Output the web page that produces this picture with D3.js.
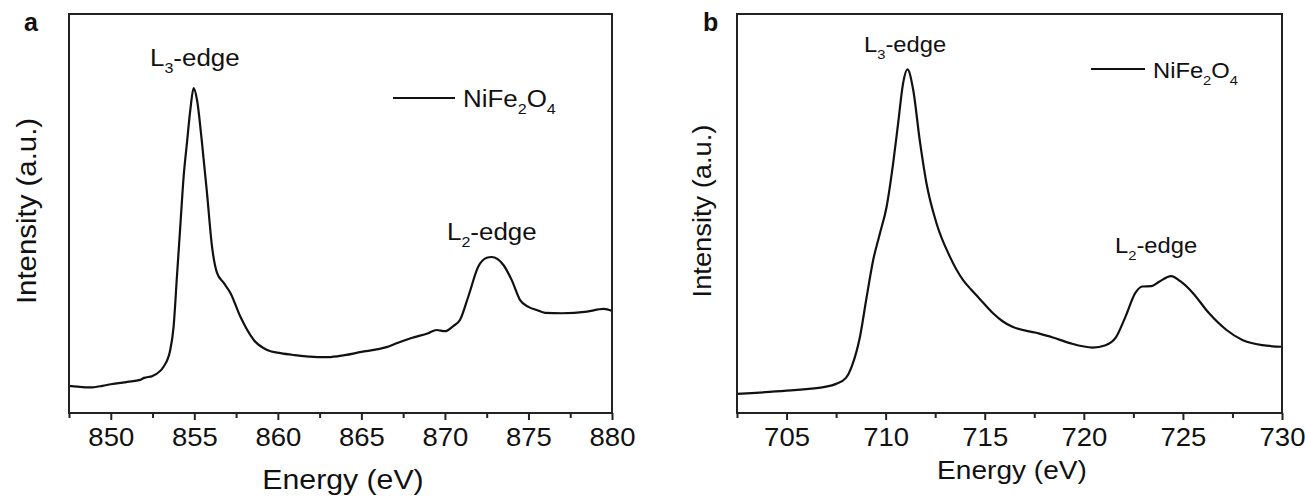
<!DOCTYPE html>
<html><head><meta charset="utf-8">
<script src="https://cdn.jsdelivr.net/npm/d3@7"></script>
<style>
html,body{margin:0;padding:0;background:#fff;}
text{font-family:"Liberation Sans",Arial,sans-serif;fill:#111;}
</style></head>
<body>
<svg id="chart" width="1305" height="500"></svg>
<script>
// ---- Data ----
const aEnergy = [847.5,848.0,848.75,849.5,850.0,851.0,851.76,852.0,852.5,853.16,853.56,853.76,853.96,854.16,854.36,854.56,854.76,854.96,855.16,855.46,855.76,856.06,856.36,856.76,857.16,857.76,858.56,859.36,860.16,861.0,862.4,863.0,864.0,865.0,866.0,866.5,867.0,868.0,869.0,869.5,870.0,870.5,870.9,871.4,872.0,872.5,872.8,873.5,874.0,874.5,875.0,875.5,876.0,877.0,878.5,879.5,880.0];
const aIntensity = [6.8,6.6,6.4,6.8,7.2,7.8,8.3,8.8,9.3,11.6,15.8,21.6,34.2,46.7,59.2,67.7,75.9,81.4,78.5,67.7,55.1,41.7,35.1,32.6,30.1,24.1,18.3,15.8,15.0,14.5,14.0,14.0,14.5,15.3,16.0,16.5,17.3,18.8,20.0,20.8,20.5,21.8,23.3,29.2,36.7,38.9,39.1,37.1,33.3,28.3,26.6,25.8,25.1,25.0,25.4,26.1,25.6];
const bEnergy = [702.5,705.0,707.0,707.5,708.0,708.3,708.7,709.04,709.37,709.71,710.05,710.38,710.63,710.88,711.1,711.39,711.72,712.06,712.57,713.24,713.91,714.3,714.75,715.42,715.9,716.4,717.6,718.4,719.3,720.45,721.1,721.6,722.1,722.6,722.95,723.4,723.8,724.4,724.9,725.5,726.3,727.2,728.0,729.0,730.0];
const bIntensity = [4.8,5.6,6.6,7.3,8.8,11.8,19.0,29.0,38.3,45.0,51.7,62.6,72.6,82.6,86.1,81.0,68.4,57.6,47.5,39.2,33.3,31.0,28.6,25.0,23.0,21.6,20.1,19.0,17.5,16.4,17.0,18.8,24.1,30.1,31.7,31.8,32.9,34.3,32.9,30.1,25.1,20.8,18.3,17.0,16.6];
const aTicks = [850,855,860,865,870,875,880];
const bTicks = [705,710,715,720,725,730];
const aMinor = [847.5,852.5,857.5,862.5,867.5,872.5,877.5];
const bMinor = [702.5,707.5,712.5,717.5,722.5,727.5];
const xTitle = "Energy (eV)";
const yTitle = "Intensity (a.u.)";
const seriesName = "NiFe";

const svg = d3.select("#chart");

function richText(g, x, y, parts, size, sx){
  const t = g.append("text").attr("transform", `translate(${x},${y}) scale(${sx},1)`)
    .style("font-size", size + "px");
  let shift = 0;
  parts.forEach(p => {
    const ts = t.append("tspan").text(p.t);
    if (p.sub) {
      ts.style("font-size", (size*0.62) + "px").attr("dy", (size*0.3 - shift));
      shift = size*0.3;
    } else {
      ts.attr("dy", -shift); shift = 0;
    }
  });
  return t;
}

function panel(cfg){
  const g = svg.append("g");
  const x = d3.scaleLinear().domain(cfg.domain).range([cfg.left, cfg.right]);
  const y = d3.scaleLinear().domain([0, 100]).range([cfg.bottom, cfg.top]);

  const line = d3.line().x((d,i)=>x(cfg.ex[i])).y((d,i)=>y(cfg.iy[i])).curve(d3.curveMonotoneX);
  g.append("path").datum(cfg.iy).attr("d", line)
    .attr("fill","none").attr("stroke","#111").attr("stroke-width",2.2).attr("stroke-linejoin","round");

  g.append("rect").attr("x", cfg.left).attr("y", cfg.top)
    .attr("width", cfg.right-cfg.left).attr("height", cfg.bottom-cfg.top)
    .attr("fill","none").attr("stroke","#222").attr("stroke-width",2);

  const ax = d3.axisBottom(x).tickValues(cfg.ticks).tickSize(7).tickPadding(8).tickFormat(d3.format("d"));
  const axg = g.append("g").attr("transform", `translate(0,${cfg.bottom})`).call(ax);
  axg.select(".domain").remove();
  axg.selectAll(".tick line").attr("stroke","#222").attr("stroke-width",2);
  axg.selectAll(".tick text").attr("fill","#111").style("font-size", cfg.tickSize+"px")
    .attr("font-family","Liberation Sans, Arial, sans-serif")
    .attr("transform","scale(1.1,1)");
  const mx = d3.axisBottom(x).tickValues(cfg.minor).tickSize(5).tickFormat("");
  const mg = g.append("g").attr("transform", `translate(0,${cfg.bottom})`).call(mx);
  mg.select(".domain").remove();
  mg.selectAll(".tick line").attr("stroke","#222").attr("stroke-width",2);

  g.append("text").attr("transform", `translate(${cfg.xtx},${cfg.xty}) scale(1.08,1)`)
    .attr("text-anchor","middle").style("font-size", cfg.titleSize+"px").text(xTitle);
  g.append("text").attr("transform", `translate(${cfg.ytx},${cfg.yty}) rotate(-90) scale(1.05,1)`)
    .attr("text-anchor","middle").style("font-size", cfg.titleSize+"px").text(yTitle);

  g.append("text").attr("x", cfg.lx).attr("y", cfg.ly).style("font-size","25px")
    .style("font-weight","bold").text(cfg.letter);

  richText(g, cfg.l3x, cfg.l3y, [{t:"L"},{t:"3",sub:true},{t:"-edge"}], cfg.labSize, 1.08);
  richText(g, cfg.l2x, cfg.l2y, [{t:"L"},{t:"2",sub:true},{t:"-edge"}], cfg.labSize, 1.08);

  g.append("line").attr("x1", cfg.legX1).attr("x2", cfg.legX2).attr("y1", cfg.legY).attr("y2", cfg.legY)
    .attr("stroke","#111").attr("stroke-width",2.2);
  richText(g, cfg.legTx, cfg.legTy, [{t:seriesName},{t:"2",sub:true},{t:"O"},{t:"4",sub:true}], cfg.labSize, 1.08);
}

panel({domain:[847.5,880], left:69, right:612, top:14, bottom:413,
  ex:aEnergy, iy:aIntensity, ticks:aTicks, minor:aMinor,
  tickSize:25, titleSize:28, labSize:24,
  xtx:343, xty:489, ytx:36, yty:211,
  lx:24, ly:31, letter:"a",
  l3x:150, l3y:66, l2x:447, l2y:240,
  legX1:393, legX2:455, legY:98, legTx:463, legTy:107});

panel({domain:[702.5,730], left:737, right:1282, top:14, bottom:413,
  ex:bEnergy, iy:bIntensity, ticks:bTicks, minor:bMinor,
  tickSize:25, titleSize:26, labSize:22,
  xtx:1012, xty:479, ytx:711, yty:211,
  lx:703, ly:31, letter:"b",
  l3x:864, l3y:52, l2x:1115, l2y:253,
  legX1:1091, legX2:1145, legY:69, legTx:1153, legTy:78});
</script>
</body></html>
